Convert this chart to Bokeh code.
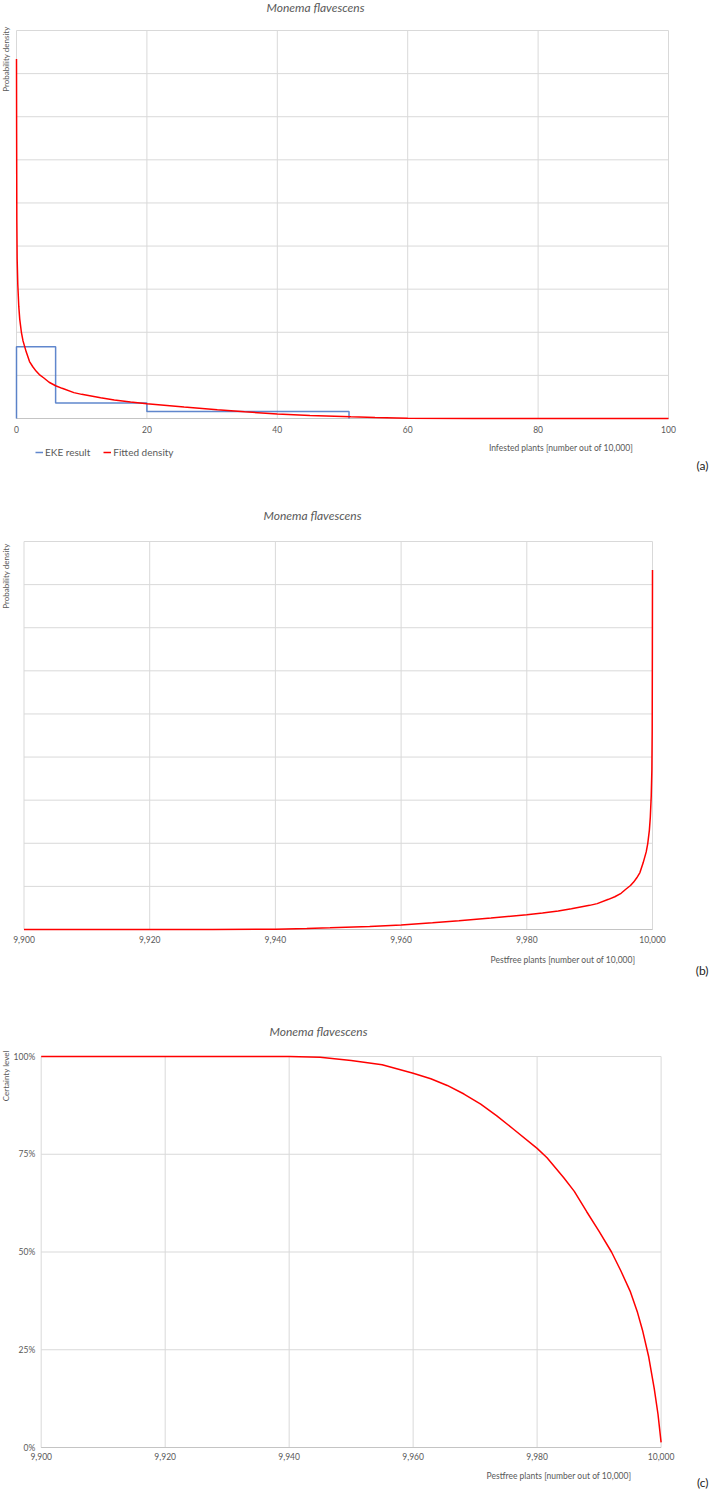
import numpy as np
from bokeh.plotting import figure
from bokeh.models import (Range1d, FixedTicker, NumeralTickFormatter, Label, Legend,
                          LegendItem, LinearAxis)
from bokeh.layouts import column
from bokeh.embed import file_html
from bokeh.resources import INLINE

# ---------------- data ----------------
species = "Monema flavescens"
total_plants = 10000

# EKE result (elicited histogram of infested plants out of 10,000)
eke_edges = [0, 6, 20, 51]
eke_density = [0.0833, 0.0179, 0.0081]

# Fitted density of infested plants
fit_x = [0, 0.02, 0.05, 0.1, 0.2, 0.35, 0.5, 0.75, 1.0, 1.5, 2.0, 2.5, 3.0, 3.5, 4.2,
         5, 6, 7, 8.8, 10, 12.9, 15, 17.5, 20, 25.7, 30.8, 35, 40, 45, 51.3, 55, 60,
         70, 80, 90, 100]
fit_y = [0.417, 0.33, 0.23, 0.185, 0.155, 0.13, 0.115, 0.1, 0.09, 0.077, 0.066, 0.06,
         0.055, 0.051, 0.047, 0.042, 0.038, 0.035, 0.030, 0.028, 0.024, 0.0215, 0.019,
         0.017, 0.0133, 0.0102, 0.0078, 0.0053, 0.0036, 0.0019, 0.0011, 0.0004,
         0.00005, 0, 0, 0]

# Certainty level vs pestfree plants
cert_x = [9900, 9920, 9940, 9945, 9950, 9955, 9960, 9962.85, 9965.5, 9968.2, 9970.9,
          9973.5, 9976.2, 9980, 9981.6, 9984.3, 9986, 9988, 9990, 9992, 9993.5, 9995,
          9996.2, 9997, 9998, 9998.9, 9999.5, 10000]
cert_y = [1.0, 1.0, 1.0, 0.998, 0.990, 0.979, 0.957, 0.943, 0.926, 0.904, 0.878,
          0.848, 0.814, 0.765, 0.741, 0.690, 0.655, 0.603, 0.553, 0.50, 0.452, 0.40,
          0.345, 0.30, 0.232, 0.150, 0.085, 0.013]

x_ticks_a = [0, 20, 40, 60, 80, 100]
x_ticks_bc = [9900, 9920, 9940, 9960, 9980, 10000]
dens_grid = [0, 0.05, 0.10, 0.15, 0.20, 0.25, 0.30, 0.35, 0.40, 0.45]
cert_ticks = [0, 0.25, 0.5, 0.75, 1.0]

xlab_a = "Infested plants [number out of 10,000]"
xlab_bc = "Pestfree plants [number out of 10,000]"
ylab_dens = "Probability density"
ylab_cert = "Certainty level"

FONT = "Lato"
TXT = "#595959"
GRID = "#d9d9d9"
AXIS = "#c4c4c4"
W = 709


class Panel:
    """A figure whose frame is the whole canvas; the plot area is placed by mapping
    its data limits onto chosen canvas pixels."""

    def __init__(self, h, xlim, ylim, px_lr, py_bt):
        self.h = h
        (x0, x1), (y0, y1) = xlim, ylim
        (L, R), (B, T) = px_lr, py_bt
        self.sx = (R - L) / (x1 - x0)
        self.sy = (B - T) / (y1 - y0)
        xs = x0 - L / self.sx
        xe = x0 + (W - L) / self.sx
        ys = y0 - (h - B) / self.sy
        ye = y0 + B / self.sy
        self.xs, self.ye = xs, ye
        p = figure(width=W, height=h, x_range=Range1d(xs, xe), y_range=Range1d(ys, ye),
                   x_axis_location=None, y_axis_location=None, min_border=0,
                   output_backend="svg", toolbar_location=None)
        p.title.visible = False
        for g in p.grid:
            g.visible = False
        p.outline_line_color = None
        p.background_fill_color = "white"
        p.border_fill_color = "white"
        self.p = p
        self.xlim, self.ylim = xlim, ylim

    def grid(self, xticks, yticks):
        (x0, x1), (y0, y1) = self.xlim, self.ylim
        self.p.segment(x0=xticks, y0=[y0] * len(xticks), x1=xticks, y1=[y1] * len(xticks),
                       line_color=GRID, line_width=1)
        self.p.segment(x0=[x0] * len(yticks), y0=yticks, x1=[x1] * len(yticks), y1=yticks,
                       line_color=GRID, line_width=1)
        # baseline (category axis line), drawn beneath the data lines
        self.p.segment(x0=[x0], y0=[y0], x1=[x1], y1=[y0], line_color=AXIS, line_width=1)

    def xaxis(self, ticks, standoff, fmt=None):
        ax = LinearAxis(fixed_location=self.ylim[0], bounds=self.xlim,
                        ticker=FixedTicker(ticks=ticks))
        if fmt:
            ax.formatter = NumeralTickFormatter(format=fmt)
        self._style(ax, standoff)
        self.p.add_layout(ax, "below")

    def yaxis(self, ticks, standoff, fmt=None):
        ax = LinearAxis(fixed_location=self.xlim[0], bounds=self.ylim,
                        ticker=FixedTicker(ticks=ticks))
        if fmt:
            ax.formatter = NumeralTickFormatter(format=fmt)
        self._style(ax, standoff)
        self.p.add_layout(ax, "left")

    @staticmethod
    def _style(ax, standoff):
        ax.axis_line_color = None
        ax.major_tick_line_color = None
        ax.minor_tick_line_color = None
        ax.major_tick_out = 0
        ax.major_tick_in = 0
        ax.major_label_standoff = standoff
        ax.major_label_text_font = FONT
        ax.major_label_text_font_size = "8.5px"
        ax.major_label_text_color = TXT

    def label(self, px, py, text, size, align="center", baseline="middle", angle=0.0,
              style="normal", color=TXT):
        x = self.xs + px / self.sx
        y = self.ye - py / self.sy
        self.p.add_layout(Label(x=x, y=y, text=text, text_font=FONT, text_font_size=size,
                                text_align=align, text_baseline=baseline, angle=angle,
                                text_font_style=style, text_color=color))


# ---------------- panel (a) ----------------
A = Panel(488, (0, 100), (0, 0.45), (16, 668), (418, 30))
A.grid(x_ticks_a, dens_grid)
A.xaxis(x_ticks_a, 7)

step_x, step_y = [eke_edges[0]], [0]
for i, d in enumerate(eke_density):
    step_x += [eke_edges[i], eke_edges[i + 1]]
    step_y += [d, d]
step_x.append(eke_edges[-1])
step_y.append(0)

r_eke = A.p.line(step_x, step_y, line_color="#4472c4", line_width=1.5, line_alpha=0.85)
r_fit = A.p.line(fit_x, fit_y, line_color="#ff0000", line_width=1.5)

leg = Legend(items=[LegendItem(label="EKE result", renderers=[r_eke]),
                    LegendItem(label="Fitted density", renderers=[r_fit])],
             location=(35, 30), orientation="horizontal")
leg.padding = 0
leg.margin = 0
leg.spacing = 13
leg.glyph_width = 8
leg.glyph_height = 12
leg.label_height = 12
leg.label_standoff = 2
leg.border_line_color = None
leg.background_fill_alpha = 0
leg.label_text_font = FONT
leg.label_text_font_size = "10px"
leg.label_text_color = TXT
A.p.add_layout(leg)

A.label(315, 7, species, "12px", style="italic")
A.label(5, 26, ylab_dens, "8px", align="right", angle=np.pi / 2)
A.label(560.5, 447, xlab_a, "8.5px")
A.label(708, 465, "(a)", "12px", align="right", color="#222222")

# ---------------- panel (b) ----------------
B = Panel(500, (9900, 10000), (0, 0.45), (23.5, 652), (441, 53))
B.grid(x_ticks_bc, dens_grid)
B.xaxis(x_ticks_bc, 6, "0,0")

pest_x = [total_plants - v for v in fit_x]
B.p.line(pest_x, fit_y, line_color="#ff0000", line_width=1.5)

B.label(312, 27, species, "12px", style="italic")
B.label(5, 55, ylab_dens, "8px", align="right", angle=np.pi / 2)
B.label(562.5, 471, xlab_bc, "8.5px")
B.label(708, 482, "(b)", "12px", align="right", color="#222222")

# ---------------- panel (c) ----------------
C = Panel(503, (9900, 10000), (0, 1.0), (40.7, 660.6), (459, 68))
C.grid(x_ticks_bc, cert_ticks)
C.xaxis(x_ticks_bc, 5, "0,0")
C.yaxis(cert_ticks, 6, "0%")

C.p.line(cert_x, cert_y, line_color="#ff0000", line_width=1.5)

C.label(318, 43, species, "12px", style="italic")
C.label(5, 62, ylab_cert, "8px", align="right", angle=np.pi / 2)
C.label(558.5, 487, xlab_bc, "8.5px")
C.label(708, 494, "(c)", "12px", align="right", color="#222222")

layout = column(A.p, B.p, C.p, spacing=0)
open("out.html", "w").write(file_html(layout, INLINE))
